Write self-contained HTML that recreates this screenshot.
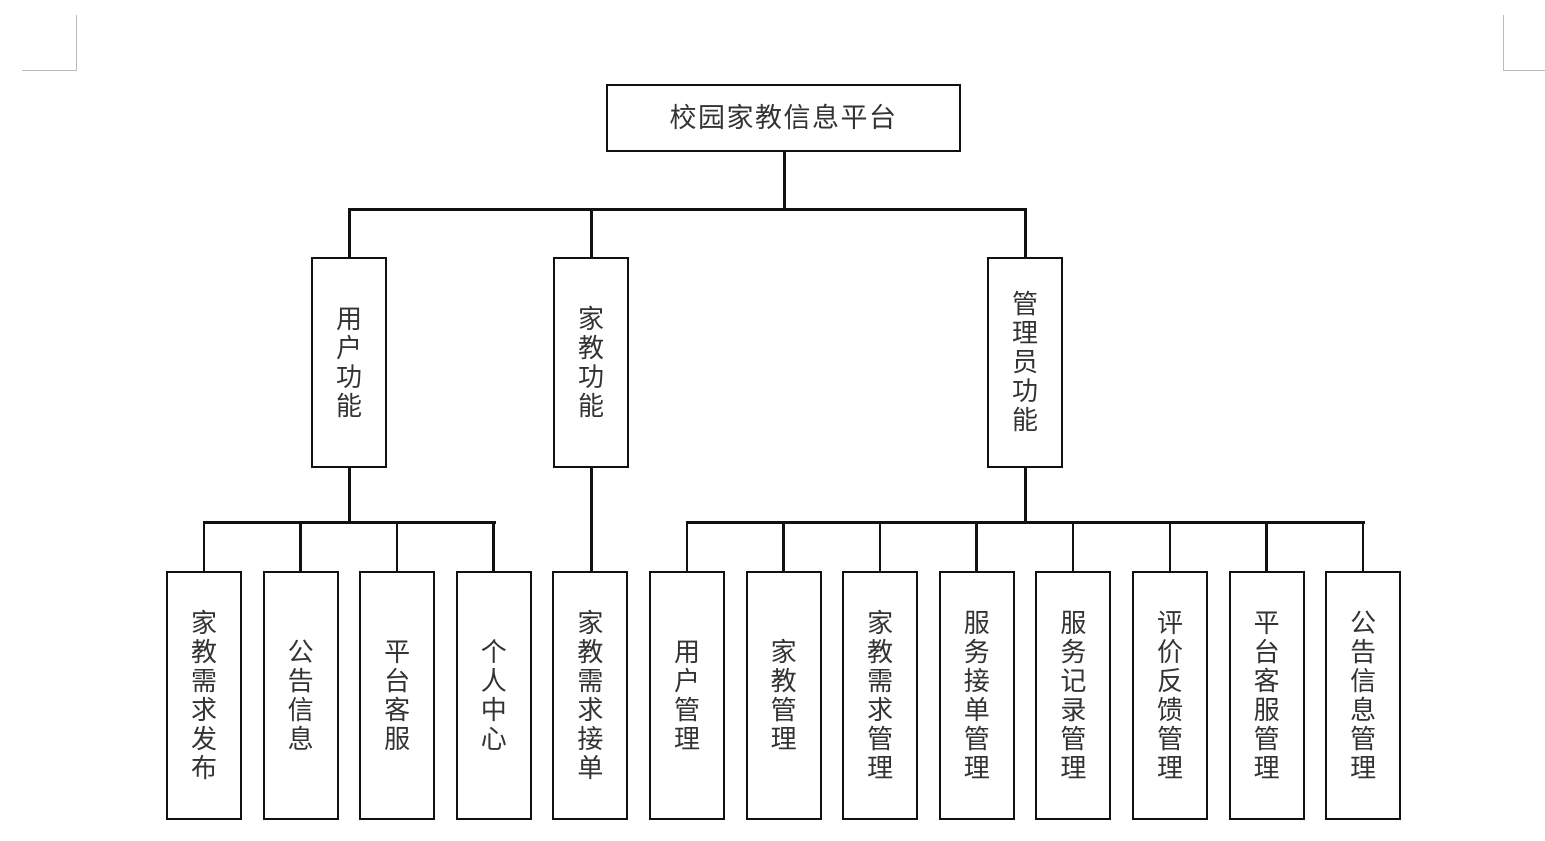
<!DOCTYPE html>
<html><head><meta charset="utf-8"><style>
body{margin:0;width:1545px;height:841px;background:#fff;position:relative;overflow:hidden;font-family:"Liberation Sans","Noto Sans CJK SC",sans-serif;}
.b{position:absolute;box-sizing:border-box;border:2.5px solid #111;background:#fff;display:flex;align-items:center;justify-content:center;text-align:center;color:#333;font-size:26px;line-height:29px;}
.l{position:absolute;background:#111;}
.c{position:absolute;background:#bbb;}
</style></head><body>
<div class="c" style="left:76px;top:15px;width:1px;height:56px"></div>
<div class="c" style="left:22px;top:70px;width:55px;height:1px"></div>
<div class="c" style="left:1503px;top:15px;width:1px;height:56px"></div>
<div class="c" style="left:1503px;top:70px;width:42px;height:1px"></div>

<div class="l" style="left:783px;top:150px;width:2.5px;height:60px"></div>
<div class="l" style="left:348px;top:208px;width:679px;height:2.5px"></div>
<div class="l" style="left:348px;top:208px;width:2.5px;height:50px"></div>
<div class="l" style="left:590px;top:208px;width:2.5px;height:50px"></div>
<div class="l" style="left:1024px;top:208px;width:2.5px;height:50px"></div>

<div class="l" style="left:348px;top:466px;width:2.5px;height:57px"></div>
<div class="l" style="left:590px;top:466px;width:2.5px;height:106px"></div>
<div class="l" style="left:1024px;top:466px;width:2.5px;height:57px"></div>
<div class="l" style="left:204px;top:521px;width:292px;height:2.5px"></div>
<div class="l" style="left:686px;top:521px;width:679px;height:2.5px"></div>

<div class="b" style="left:606px;top:84px;width:355px;height:68px;font-size:27px;letter-spacing:1.5px">校园家教信息平台</div>
<div class="b" style="left:311px;top:257px;width:76px;height:211px">用<br>户<br>功<br>能</div>
<div class="b" style="left:553px;top:257px;width:76px;height:211px">家<br>教<br>功<br>能</div>
<div class="b" style="left:987px;top:257px;width:76px;height:211px">管<br>理<br>员<br>功<br>能</div>

<div id="bot"></div>
<script>
var items=["家教需求发布","公告信息","平台客服","个人中心","家教需求接单","用户管理","家教管理","家教需求管理","服务接单管理","服务记录管理","评价反馈管理","平台客服管理","公告信息管理"];
var h="";
for(var i=0;i<13;i++){
 var x=166+i*96.6;
 if(i!=4) h+='<div class="l" style="left:'+(x+37.5-1)+'px;top:521px;width:2.5px;height:51px"></div>';
 h+='<div class="b" style="left:'+x+'px;top:571px;width:76px;height:249px">'+items[i].split("").join("<br>")+'</div>';
}
document.getElementById("bot").outerHTML=h;
</script>
</body></html>
